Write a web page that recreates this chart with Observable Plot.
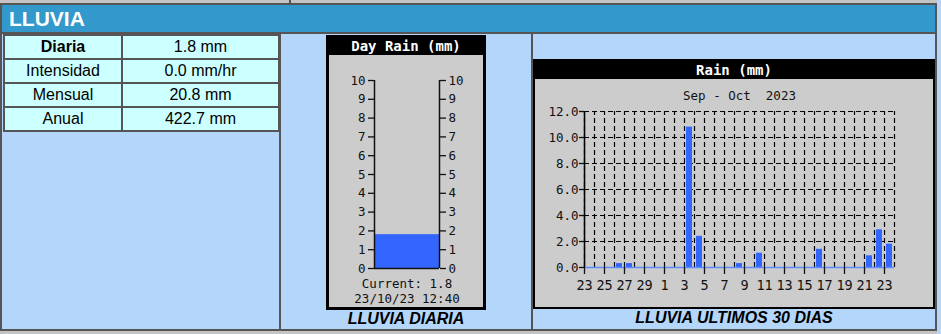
<!DOCTYPE html>
<html><head><meta charset="utf-8">
<script src="https://cdn.jsdelivr.net/npm/d3@7"></script>
<script src="https://cdn.jsdelivr.net/npm/@observablehq/plot@0.6"></script>
<style>
html,body{margin:0;padding:0;}
body{width:941px;height:334px;overflow:hidden;background:#b4d6fa;position:relative;font-family:"Liberation Sans",Arial,sans-serif;}
.abs{position:absolute;box-sizing:border-box;}
svg text{white-space:pre;}
table.t{position:absolute;left:3px;top:34px;border-collapse:collapse;border:2px solid #555;table-layout:fixed;}
table.t td{border:2px solid #555;background:#ccffff;height:22px;padding:0;text-align:center;font-size:16px;color:#000;line-height:20px;}
.ttl{color:#fff;font-family:"DejaVu Sans Mono",monospace;font-weight:bold;font-size:14px;text-align:center;background:#000;}
.cap{position:absolute;font-weight:bold;font-style:italic;font-size:16px;color:#000;text-align:center;}
</style></head>
<body>
<div class="abs" style="left:0;top:0;width:937px;height:3px;background:#c4c4c4;"></div>
<div class="abs" style="left:289px;top:0;width:2px;height:3px;background:#555;"></div>
<div class="abs" style="left:0;top:3px;width:937px;height:328px;border:2px solid #555;"></div>
<div class="abs" style="left:2px;top:5px;width:933px;height:27px;background:#3399cc;"></div>
<div class="abs" style="left:0;top:32px;width:937px;height:2px;background:#555;"></div>
<div class="abs" style="left:279px;top:34px;width:2px;height:296px;background:#555;"></div>
<div class="abs" style="left:531px;top:34px;width:2px;height:296px;background:#555;"></div>
<div class="abs" style="left:0;top:331px;width:937px;height:3px;background:#c4c4c4;"></div>
<div class="abs" id="hdr" style="left:9px;top:5px;height:27px;line-height:27px;color:#fff;font-weight:bold;font-size:21px;"></div>

<table class="t" id="tbl">
<colgroup><col style="width:118px"><col style="width:157px"></colgroup>
<tbody></tbody>
</table>

<div class="abs" style="left:326px;top:35px;width:160px;height:275px;background:#000;padding:3px;">
  <div class="ttl" id="gTitle" style="height:16px;line-height:16px;"></div>
  <div id="gauge" style="margin-top:1px;"></div>
</div>
<div class="cap" id="cap1" style="left:281px;width:250px;top:309px;line-height:20px;"></div>

<div class="abs" style="left:533px;top:59px;width:402px;height:250px;background:#000;padding:2px;">
  <div class="ttl" id="rTitle" style="height:18px;line-height:18px;"></div>
  <div id="rain"></div>
</div>
<div class="cap" id="cap2" style="left:533px;width:402px;top:308px;line-height:20px;"></div>

<script>
// ---- data ----
const sectionTitle = "LLUVIA";
const tableLabels = ["Diaria", "Intensidad", "Mensual", "Anual"];
const tableValues = ["1.8 mm", "0.0 mm/hr", "20.8 mm", "422.7 mm"];

const gaugeTitle = "Day Rain (mm)";
const gaugeTicks = [0,1,2,3,4,5,6,7,8,9,10];
const dayRain = 1.8;
const gaugeLines = ["Current: 1.8", "23/10/23 12:40"];
const caption1 = "LLUVIA DIARIA";

const rainTitle = "Rain (mm)";
const rainSubtitle = "Sep - Oct  2023";
const days = ["2023-09-23","2023-09-24","2023-09-25","2023-09-26","2023-09-27","2023-09-28","2023-09-29","2023-09-30",
  "2023-10-01","2023-10-02","2023-10-03","2023-10-04","2023-10-05","2023-10-06","2023-10-07","2023-10-08","2023-10-09",
  "2023-10-10","2023-10-11","2023-10-12","2023-10-13","2023-10-14","2023-10-15","2023-10-16","2023-10-17","2023-10-18",
  "2023-10-19","2023-10-20","2023-10-21","2023-10-22","2023-10-23"];
const rainValues = [0,0,0,0.3,0.3,0,0,0,
  0,0,10.8,2.4,0,0,0,0.3,0,
  1.1,0,0,0,0,0,1.4,0,0,
  0,0,0.9,2.9,1.8];
const xTickDays = ["2023-09-23","2023-09-25","2023-09-27","2023-09-29","2023-10-01","2023-10-03","2023-10-05","2023-10-07",
  "2023-10-09","2023-10-11","2023-10-13","2023-10-15","2023-10-17","2023-10-19","2023-10-21","2023-10-23"];
const xTickLabels = ["23","25","27","29","1","3","5","7","9","11","13","15","17","19","21","23"];
const yTicks = [0,2,4,6,8,10,12];
const caption2 = "LLUVIA ULTIMOS 30 DIAS";

// ---- html parts ----
document.getElementById("hdr").textContent = sectionTitle;
const tb = document.querySelector("#tbl tbody");
tableLabels.forEach((l, i) => {
  const tr = document.createElement("tr");
  const a = document.createElement("td"); a.textContent = l; if (i === 0) a.style.fontWeight = "bold";
  const b = document.createElement("td"); b.textContent = tableValues[i];
  tr.append(a, b); tb.append(tr);
});
document.getElementById("gTitle").textContent = gaugeTitle;
document.getElementById("rTitle").textContent = rainTitle;
document.getElementById("cap1").textContent = caption1;
document.getElementById("cap2").textContent = caption2;

const mono = "DejaVu Sans Mono, monospace";

// ---- gauge ----
const gauge = Plot.plot({
  width: 154, height: 252,
  marginLeft: 45, marginRight: 44, marginTop: 25, marginBottom: 39,
  x: {domain: [0, 1], axis: null, label: null},
  y: {domain: [0, 10], axis: null, label: null},
  style: {background: "#cccccc", fontFamily: mono, fontSize: "12.5px", color: "#111", overflow: "visible"},
  marks: [
    Plot.rect([dayRain], {x1: 0, x2: 1, y1: 0, y2: d => d, fill: "#3366ff"}),
    Plot.axisY(gaugeTicks, {anchor: "left", label: null, tickSize: 6, tickPadding: 3, tickFormat: d => String(d), strokeWidth: 1.3}),
    Plot.axisY(gaugeTicks, {anchor: "right", label: null, tickSize: 6, tickPadding: 3, tickFormat: d => String(d), strokeWidth: 1.3}),
    Plot.ruleX([0, 1], {y1: 0, y2: 10, stroke: "#111", strokeWidth: 1.5}),
    Plot.ruleY([0], {x1: 0, x2: 1, stroke: "#111", strokeWidth: 1.5}),
    Plot.text([gaugeLines[0]], {text: d => d, frameAnchor: "bottom", lineAnchor: "middle", dy: 15}),
    Plot.text([gaugeLines[1]], {text: d => d, frameAnchor: "bottom", lineAnchor: "middle", dy: 30})
  ]
});
document.getElementById("gauge").append(gauge);

// ---- rain chart ----
const table = days.map((d, i) => {
  const date = new Date(d);
  return {date, end: d3.utcDay.offset(date, 1), rain: rainValues[i]};
});
const start = table[0].date;
const stop = table[table.length - 1].end;
const gridDays = d3.utcDay.range(start, d3.utcDay.offset(stop, 1));
const tickDates = xTickDays.map(d => new Date(d));

const rainChart = Plot.plot({
  width: 398, height: 228,
  marginLeft: 49, marginRight: 39, marginTop: 32, marginBottom: 40,
  x: {type: "utc", domain: [start, stop], axis: null, label: null},
  y: {domain: [0, 12], axis: null, label: null},
  style: {background: "#cccccc", fontFamily: mono, fontSize: "12.5px", color: "#111", overflow: "visible"},
  marks: [
    Plot.ruleY(yTicks, {stroke: "#000", strokeDasharray: "5,3", strokeWidth: 1.2}),
    Plot.ruleX(gridDays, {y1: 0, y2: 12, stroke: "#000", strokeDasharray: "5,3", strokeWidth: 1.2}),
    Plot.rectY(table, {x1: "date", x2: "end", y: "rain", fill: "#3366ff", insetLeft: 2, insetRight: 2}),
    Plot.ruleY([0], {x1: start, x2: stop, stroke: "#5b8cff", strokeWidth: 1.5}),
    Plot.ruleX([start], {y1: 0, y2: 12, stroke: "#000", strokeWidth: 1.5}),
    Plot.axisY(yTicks, {anchor: "left", label: null, tickSize: 5, tickPadding: 1, tickFormat: d => d.toFixed(1), strokeWidth: 1.3}),
    Plot.axisX(tickDates, {anchor: "bottom", label: null, tickSize: 7, tickPadding: 6, fontSize: 13.5, strokeWidth: 1.3,
      tickFormat: d => xTickLabels[tickDates.findIndex(t => +t === +d)]}),
    Plot.text([rainSubtitle], {text: d => d, frameAnchor: "top", lineAnchor: "middle", dy: -16})
  ]
});
document.getElementById("rain").append(rainChart);
</script>
</body></html>
